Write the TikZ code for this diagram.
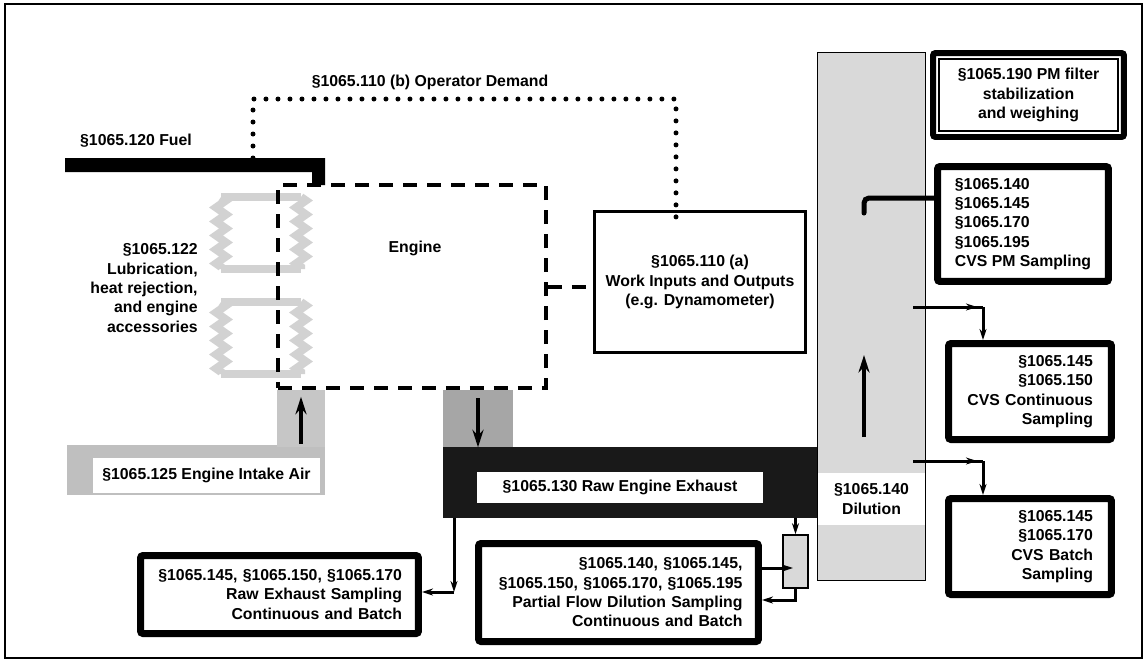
\documentclass[tikz,border=0pt]{standalone}
\usepackage{fontspec}
\setmainfont{Liberation Sans}
\usetikzlibrary{arrows.meta,calc,decorations.pathmorphing}

\begin{document}
\begin{tikzpicture}[x=0.02cm,y=-0.02cm,font=\fontsize{9}{11}\selectfont\bfseries,
  >={Stealth[length=2.2mm,width=1.4mm]},
  lbl/.style={inner sep=0pt},
  box/.style={draw,line width=1.4mm,rounded corners=0.5mm,fill=white,align=right,inner sep=0pt},
  cut/.style={fill=white,inner sep=0pt},
  pipe/.style={fill=#1,inner sep=0pt},
  tap/.style={->,line width=0.6mm},
  flow/.style={-{Stealth[length=3.5mm,width=2.2mm]},line width=0.9mm},
  dashline/.style={line width=0.8mm,dash pattern=on 2.8mm off 2mm},
  dotline/.style={line width=1mm,line cap=round,dash pattern=on 0pt off 2.4mm},
  hx/.style={gray!35,line width=1.6mm},
  zz/.style={hx,decorate,decoration={zigzag,segment length=2.8mm,amplitude=1mm}}]
\useasboundingbox (0,0) rectangle (1146,664);
\draw[line width=0.5mm] (5,4) rectangle (1142,658);

% fuel and operator demand
\node[lbl] (fuellbl) at (136,141) {§1065.120 Fuel};
\fill (65,158) -- (325,158) -- (325,185) -- (312,185) -- (312,172) -- (65,172) -- cycle;
\coordinate (fueltap) at (253,158);
\node[lbl] (demandlbl) at (430,82) {§1065.110 (b) Operator Demand};

% lubrication / heat rejection
\foreach \y in {197,302} {
  \draw[hx] (221,\y) -- (301,\y) (221,\y+72) -- (301,\y+72);
  \draw[zz] (221,\y) -- (221,\y+72);
  \draw[zz] (301,\y) -- (301,\y+72);
}
\node[lbl,align=right,anchor=east] (lube) at (198,288) {§1065.122\\Lubrication,\\heat rejection,\\and engine\\accessories};

% engine and dynamometer
\node[draw,dashline,minimum width=5.36cm,minimum height=4.06cm] (engine) at (412,286.5) {};
\node[lbl] (enginelbl) at (415,248) {Engine};
\node[draw,line width=0.6mm,minimum width=4.22cm,minimum height=2.82cm,align=center] (dyno) at (700,282)
  {§1065.110 (a)\\Work Inputs and Outputs\\(e.g. Dynamometer)};
\draw[dashline] (engine.east) -- (engine.east -| dyno.west);
\coordinate (demandend) at (676,222);
\draw[dotline] (fueltap) -- (253,99) -| (demandend);

% intake air
\fill[gray!50] (67,445) rectangle (325,495);
\node[pipe=gray!45,minimum width=0.96cm,minimum height=1.14cm] (airin) at (301,418.5) {};
\node[cut,minimum width=4.54cm,minimum height=0.7cm] (intake) at (206.5,475.5) {§1065.125 Engine Intake Air};
\draw[flow,shorten <=2pt,shorten >=4pt] (airin.south) -- (airin.north);

% raw exhaust
\node[pipe=gray!70,minimum width=1.4cm,minimum height=1.14cm] (exin) at (478,418.5) {};
\fill[black!90] (443,447) rectangle (818,518);
\node[cut,minimum width=5.72cm,minimum height=0.62cm] (exhaust) at (620,487.5) {§1065.130 Raw Engine Exhaust};
\draw[flow,shorten <=5pt] (exin.north) -- (exin.south);

% dilution tunnel
\node[pipe=gray!30,minimum width=2.14cm,minimum height=10.54cm] (tunnel) at (871.5,316.5) {};
\node[cut,minimum width=2.14cm,minimum height=1.04cm,align=center] (dilution) at (871.5,499) {§1065.140\\Dilution};
\draw[line width=0.3mm] (tunnel.north west) rectangle (tunnel.south east);
\coordinate (tunbot) at (864,437);
\coordinate (tuntop) at (864,355);
\draw[flow] (tunbot) -- (tuntop);

% CVS sampling
\node[box,line width=1.2mm,minimum width=3.82cm,minimum height=1.68cm,align=center] (pmfilter) at (1028.5,95)
  {§1065.190 PM filter\\stabilization\\and weighing};
\draw[line width=0.3mm] ($(pmfilter.north west)+(9,9)$) rectangle ($(pmfilter.south east)+(-9,-9)$);
\node[box,align=left,minimum width=3.42cm,minimum height=2.3cm] (pmsamp) at (1023,224)
  {§1065.140\\§1065.145\\§1065.170\\§1065.195\\CVS PM Sampling};
\coordinate (pmtip) at (864,213);
\coordinate (pmbend) at (864,198);
\draw[line width=1mm,rounded corners=1mm,line cap=round] (pmtip) -- (pmbend) -- (pmbend -| pmsamp.west);

\node[box,text width=2.52cm,minimum width=3.26cm,minimum height=1.92cm] (cvscont) at (1030,391.5)
  {§1065.145\\§1065.150\\CVS Continuous\\Sampling};
\coordinate (conttap) at (913,307);
\coordinate (contbend) at (983,307);
\draw[line width=0.6mm] (conttap) -- (contbend);
\draw[tap] (conttap) -- ($(contbend)+(-6,0)$);
\draw[tap] (contbend) -- (contbend |- cvscont.north);

\node[box,text width=2.52cm,minimum width=3.26cm,minimum height=1.92cm] (cvsbatch) at (1030,546.5)
  {§1065.145\\§1065.170\\CVS Batch\\Sampling};
\coordinate (batchtap) at (913,461);
\coordinate (batchbend) at (983,461);
\draw[line width=0.6mm] (batchtap) -- (batchbend);
\draw[tap] (batchtap) -- ($(batchbend)+(-6,0)$);
\draw[tap] (batchbend) -- (batchbend |- cvsbatch.north);

% raw and partial flow sampling
\node[box,text width=4.9cm,minimum width=5.56cm,minimum height=1.56cm] (rawsamp) at (279.5,594.5)
  {§1065.145, §1065.150, §1065.170\\Raw Exhaust Sampling\\Continuous and Batch};
\coordinate (rawtap) at (454,518);
\coordinate (rawbend) at (454,592);
\draw[tap] (rawtap) -- (rawbend);
\draw[tap] (rawbend) -- (rawbend -| rawsamp.east);

\node[box,text width=4.96cm,minimum width=5.6cm,minimum height=1.96cm] (pfsamp) at (618.5,592.5)
  {§1065.140, §1065.145,\\§1065.150, §1065.170, §1065.195\\Partial Flow Dilution Sampling\\Continuous and Batch};
\node[draw,line width=0.3mm,fill=gray!30,minimum width=0.5cm,minimum height=1.06cm] (pfunit) at (795.5,561.5) {};
\coordinate (pftap) at (795.5,518);
\draw[tap] (pftap) -- (pfunit.north);
\coordinate (pfin) at (793,568);
\draw[tap] (pfin -| pfsamp.east) -- (pfin);
\coordinate (pfret) at (795.5,600);
\draw[tap] (pfunit.south) -- (pfret) -- (pfret -| pfsamp.east);
\end{tikzpicture}
\end{document}
